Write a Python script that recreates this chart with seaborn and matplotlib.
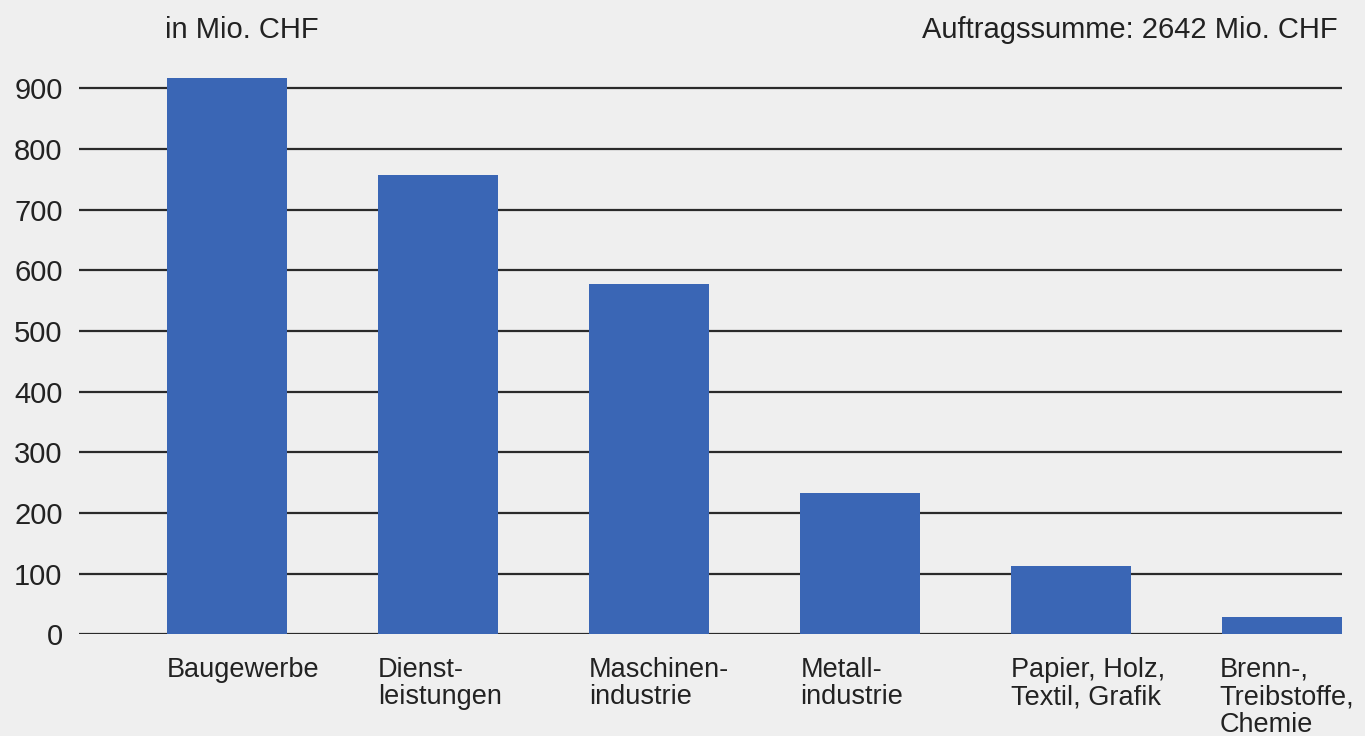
import numpy as np
import pandas as pd
import seaborn as sns
import matplotlib.pyplot as plt

# Auftragssumme nach Branche (in Mio. CHF)
branchen = ['Baugewerbe', 'Dienst-\nleistungen', 'Maschinen-\nindustrie',
            'Metall-\nindustrie', 'Papier, Holz,\nTextil, Grafik',
            'Brenn-,\nTreibstoffe,\nChemie']
werte = [917, 757, 577, 233, 112, 28]
y_ticks = [0, 100, 200, 300, 400, 500, 600, 700, 800, 900]

df = pd.DataFrame({'branche': branchen, 'wert': werte})

sns.set_style('white')
plt.rcParams['font.family'] = ['Liberation Sans', 'DejaVu Sans']

bg = '#efefef'
blau = '#3a66b5'

fig = plt.figure(figsize=(13.65, 7.36), dpi=100, facecolor=bg)
ax = fig.add_axes([0.058, 0.138, 0.925, 0.775], facecolor=bg)

sns.barplot(data=df, x='branche', y='wert', color=blau, width=0.566,
            saturation=1, linewidth=0, ax=ax, zorder=3)

# horizontale Linien hinter den Balken
for t in y_ticks:
    ax.axhline(t, color='#2a2a2a', lw=1.6, zorder=1)

ax.set_xlim(-0.70, 5.283)
ax.set_ylim(0, 940)
ax.set_yticks(y_ticks)
ax.set_yticklabels([str(t) for t in y_ticks], fontsize=21, color='#222222')
ax.tick_params(axis='y', length=0, pad=12)
ax.set_xlabel('')
ax.set_ylabel('')
ax.set_xticks([])
for s in ax.spines.values():
    s.set_visible(False)

# Beschriftungen linksbündig unter den Balken
for i, lab in enumerate(branchen):
    ax.annotate(lab, xy=(i - 0.283, 0), xycoords='data',
                xytext=(-2 if i == 5 else 0, -16), textcoords='offset points',
                ha='left', va='top', fontsize=19.5, color='#222222',
                linespacing=1.08)

fig.text(165 / 1365, 1 - 30 / 736, 'in Mio. CHF', ha='left', va='center',
         fontsize=21, color='#222222')
fig.text(1338 / 1365, 1 - 30 / 736, 'Auftragssumme: 2642 Mio. CHF',
         ha='right', va='center', fontsize=21, color='#222222')

plt.savefig('out.png', dpi=100, facecolor=bg)
